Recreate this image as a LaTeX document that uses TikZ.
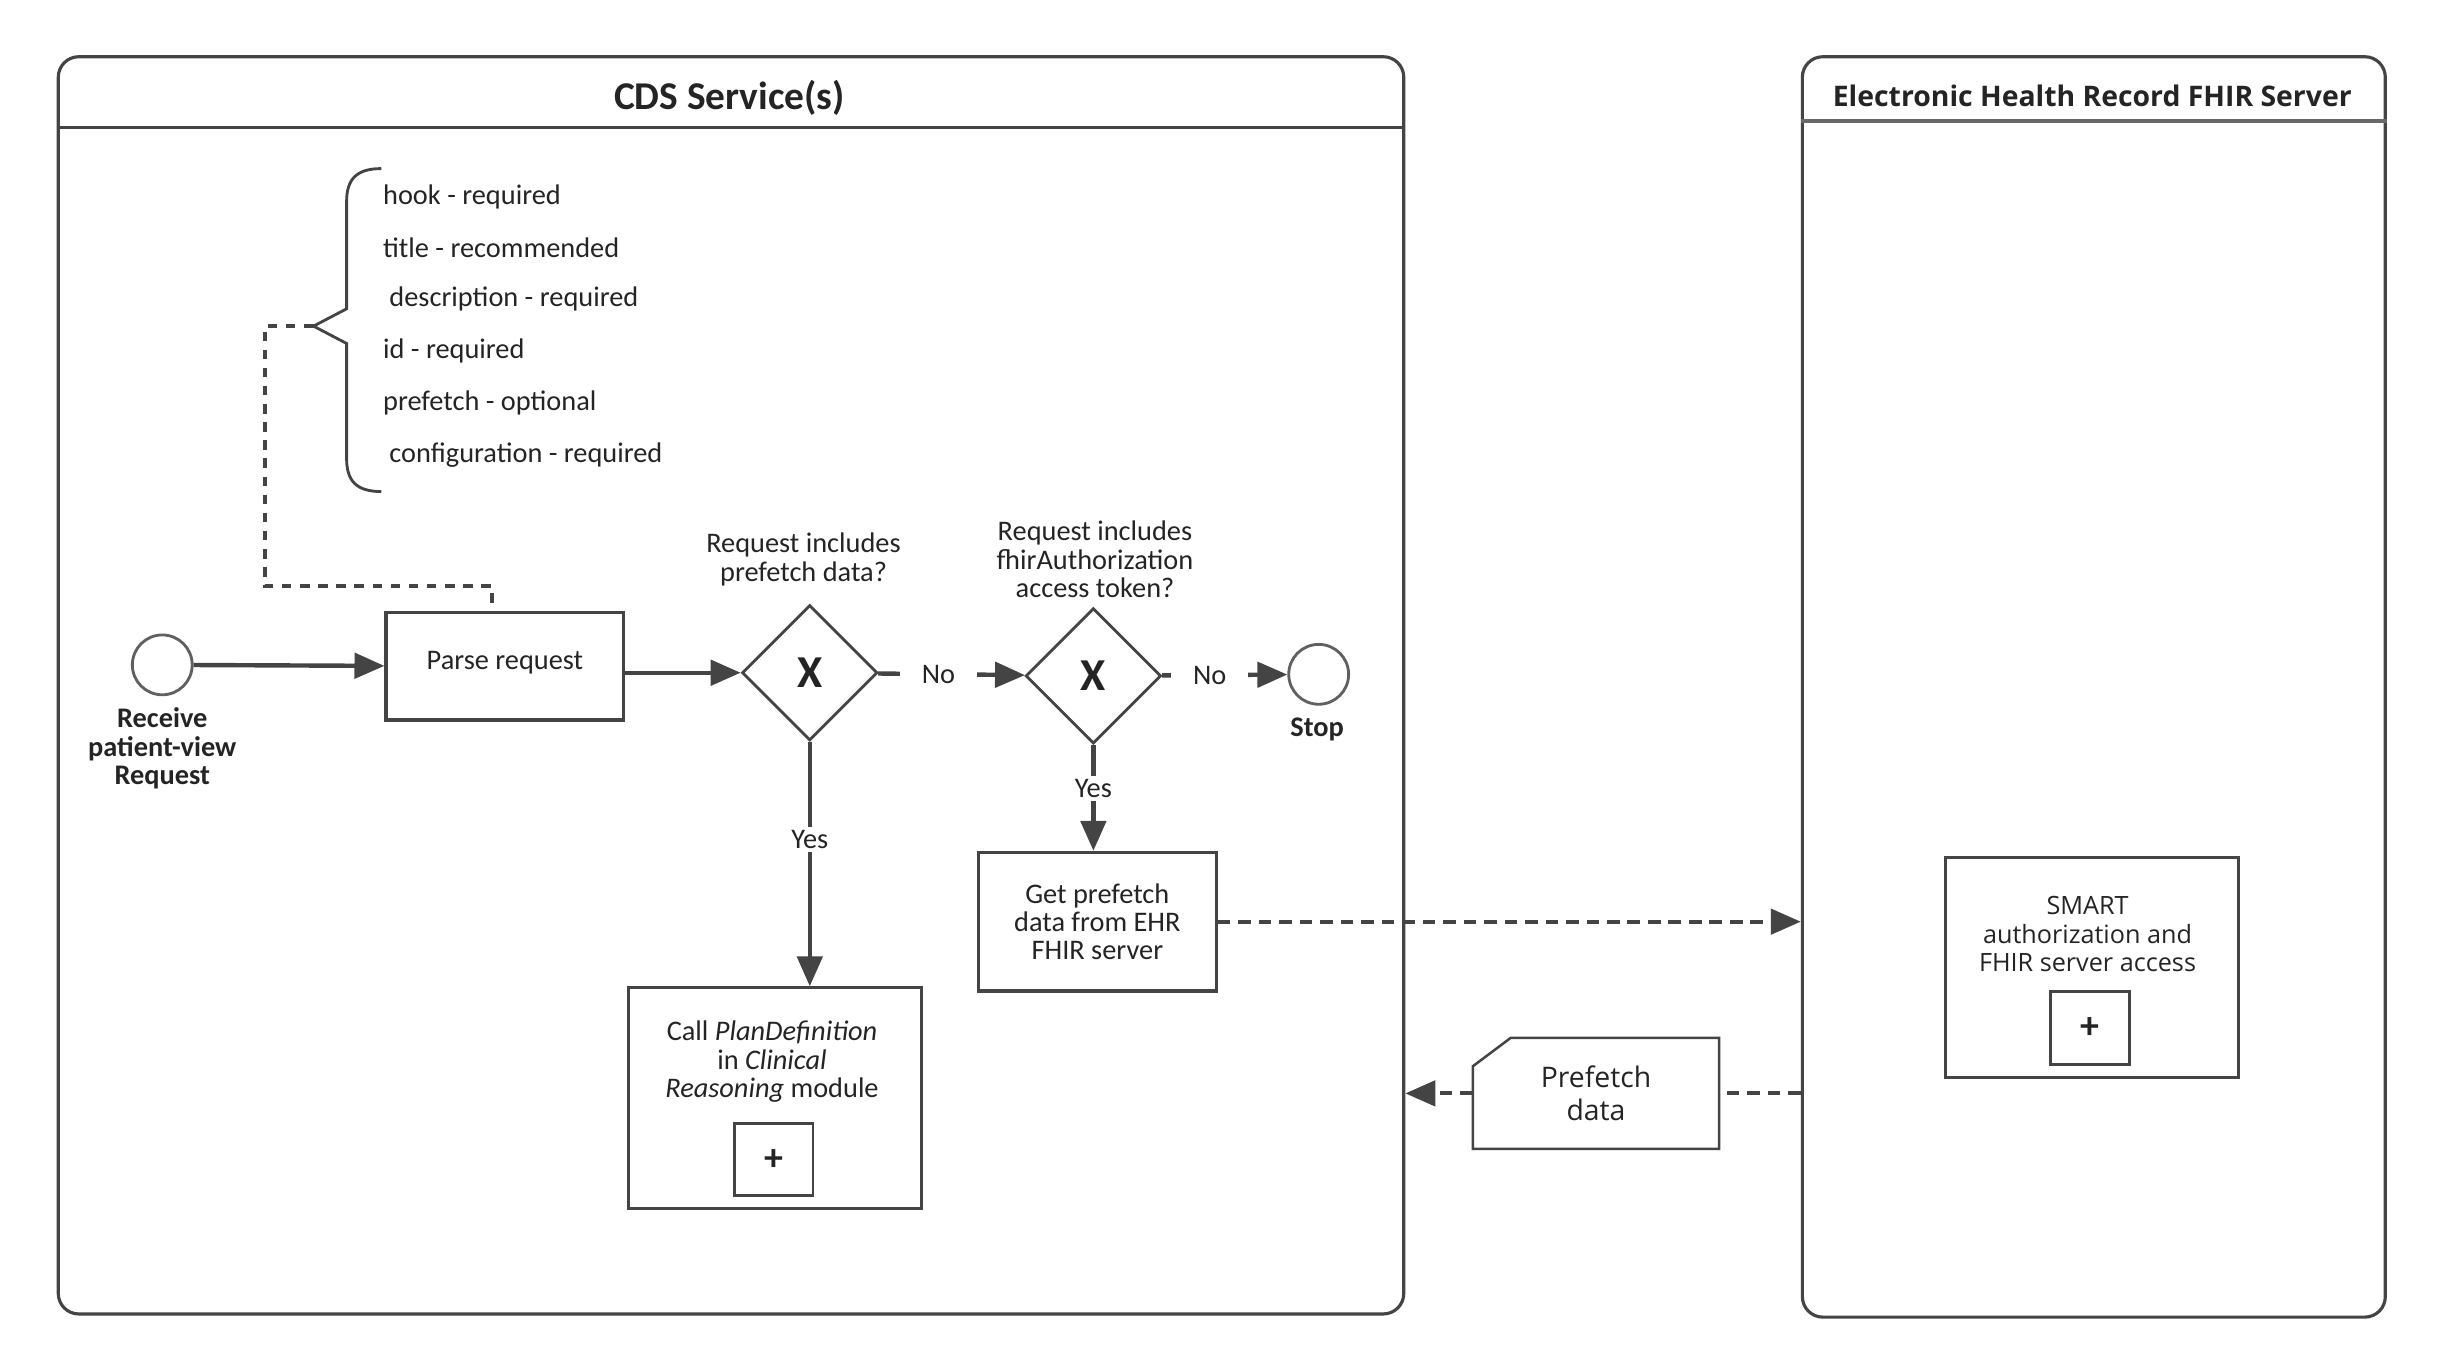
\documentclass[tikz,border=0pt]{standalone}
\usepackage{fontspec}
\setmainfont{Carlito}
\newfontfamily\ehrfont{Open Sans}
\usetikzlibrary{arrows.meta,shapes.geometric,positioning}

\definecolor{linegray}{HTML}{444444}
\definecolor{textgray}{HTML}{242424}

\begin{document}
\begin{tikzpicture}[x=1pt,y=-1pt,
    every node/.style={text=textgray},
    pool/.style={draw=linegray, line width=2pt, rounded corners=13pt},
    task/.style={draw=linegray, line width=2pt, rectangle, inner sep=0pt,
        font=\fontsize{18}{18}\selectfont, align=center},
    gate/.style={draw=linegray, line width=1.8pt, diamond, inner sep=0pt,
        minimum width=86, minimum height=86, font=\fontsize{29}{29}\selectfont\bfseries},
    event/.style={draw=linegray!85, line width=1.8pt, circle, minimum size=38, inner sep=0pt},
    evlabel/.style={font=\fontsize{18}{18}\selectfont\bfseries, align=center},
    lbl/.style={font=\fontsize{18}{18}\selectfont, align=center},
    gaplbl/.style={lbl, fill=white, inner xsep=14pt, inner ysep=2pt},
    fieldtext/.style={lbl, anchor=west, inner sep=0pt},
    plusbox/.style={draw=linegray, line width=1.8pt, minimum width=50, minimum height=46,
        inner sep=0pt, font=\fontsize{24}{24}\selectfont\bfseries},
    flow/.style={draw=linegray, line width=2.8pt, -{Triangle[length=19pt,width=16pt]}},
    msg/.style={draw=linegray, line width=2.6pt, dash pattern=on 8pt off 5pt},
    assoc/.style={draw=linegray, line width=2.6pt, dash pattern=on 6pt off 5.5pt}
]

    \useasboundingbox (0,0) rectangle (1550,863);

    % pools
    \node[pool, minimum width=854, minimum height=798] (cds) at (464,435) {};
    \node[pool, minimum width=370, minimum height=800] (ehr) at (1329,436) {};
    \draw[linegray, line width=2pt] ([yshift=-46pt]cds.north west) -- ([yshift=-46pt]cds.north east);
    \draw[linegray!80, line width=2.4pt] ([yshift=-42pt]ehr.north west) -- ([yshift=-42pt]ehr.north east);
    \node[font=\fontsize{25}{25}\selectfont\bfseries] (cdstitle) at (463,62) {CDS Service(s)};
    \node[font=\ehrfont\fontsize{18}{18}\selectfont\bfseries] (ehrtitle) at (1328,61) {Electronic Health Record FHIR Server};

    % service fields
    \coordinate (tip) at (199,207);
    \draw[linegray, line width=1.8pt] (242,107) .. controls (226,107) and (220,114) .. (220,128)
        -- (220,196) -- (tip) -- (220,218) -- (220,291)
        .. controls (220,305) and (226,312) .. (242,312);
    \node[fieldtext] (hook) at (243,125) {hook - required};
    \node[fieldtext] (title) at (243,157) {title - recommended};
    \node[fieldtext] (descr) at (247,190) {description - required};
    \node[fieldtext] (id) at (243,223) {id - required};
    \node[fieldtext] (prefetch) at (243,256) {prefetch - optional};
    \node[fieldtext] (config) at (247,289) {configuration - required};

    % process
    \node[event] (start) at (103,422) {};
    \node[evlabel] (startlbl) at (103,475) {Receive\\patient-view\\Request};
    \node[task, minimum width=151, minimum height=68, text depth=8pt] (parse) at (320.5,423) {Parse request};
    \node[gate] (d1) at (514,427) {X};
    \node[lbl] (q1) at (510,355) {Request includes\\prefetch data?};
    \node[gate] (d2) at (694,429) {X};
    \node[lbl] (q2) at (695,355) {Request includes\\fhirAuthorization\\access token?};
    \node[event] (stop) at (837,428) {};
    \node[evlabel] (stoplbl) at (836,463) {Stop};

    \node[task, minimum width=186, minimum height=140] (call) at (492,697) {};
    \node[lbl] (calltext) at (490,674) {Call \textit{PlanDefinition}\\in \textit{Clinical}\\\textit{Reasoning} module};
    \node[plusbox] (callplus) at (491,736) {+};
    \node[task, minimum width=151, minimum height=88] (get) at (696.5,585) {Get prefetch\\data from EHR\\FHIR server};

    % EHR side
    \node[task, minimum width=186, minimum height=140] (smart) at (1328,614) {};
    \node[font=\ehrfont\fontsize{16}{18}\selectfont, align=center] (smarttext) at (1325,593) {SMART\\authorization and\\FHIR server access};
    \node[plusbox] (smartplus) at (1326.5,652.5) {+};

    \node[font=\ehrfont\fontsize{18}{21}\selectfont, align=center, inner sep=0pt,
        minimum width=156, minimum height=70] (pdata) at (1013,694) {Prefetch\\data};
    \draw[linegray, line width=1.6pt] (pdata.south west) -- (pdata.south east) -- (pdata.north east)
        -- ([xshift=24pt]pdata.north west) -- ([yshift=-18pt]pdata.north west) -- cycle;

    % connectors
    \coordinate (bend) at (168,372);
    \draw[assoc] (tip) -| (bend) -| ([xshift=-8pt]parse.north);

    \draw[flow] (start) -- (parse);
    \draw[flow] (parse.east |- d1) -- (d1);
    \draw[flow] (d1) -- node[gaplbl, pos=0.41] (no1) {No} (d2);
    \draw[flow] (d2) -- node[gaplbl, pos=0.38] (no2) {No} (stop);
    \draw[flow] (d1) -- node[gaplbl, pos=0.40] (yes1) {Yes} (d1 |- call.north);
    \draw[flow] (d2) -- node[gaplbl, pos=0.41] (yes2) {Yes} (d2 |- get.north);

    \draw[msg, -{Triangle[length=19pt,width=16pt]}] (get) -- (get -| ehr.west);
    \draw[msg] (ehr.west |- pdata) -- (pdata);
    \draw[msg, -{Triangle[length=19pt,width=16pt]}] (pdata) -- (pdata -| cds.east);

\end{tikzpicture}
\end{document}
